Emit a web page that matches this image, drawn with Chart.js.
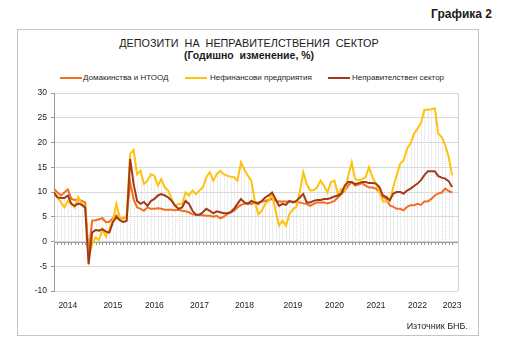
<!DOCTYPE html>
<html>
<head>
<meta charset="utf-8">
<script src="https://cdn.jsdelivr.net/npm/chart.js@4.4.1/dist/chart.umd.min.js"></script>
<style>
  html,body{margin:0;padding:0;background:#fff;}
  #wrap{position:relative;width:515px;height:362px;background:#fff;font-family:Arial,"Liberation Sans",sans-serif;color:#1a1a1a;overflow:hidden;}
  #frame{position:absolute;left:17px;top:29px;width:462px;height:307px;border:1px solid #c4c4c4;box-sizing:border-box;}
  #fig{position:absolute;right:23px;top:7px;font-weight:bold;font-size:12px;line-height:14px;}
  .t{position:absolute;left:0;width:498px;text-align:center;white-space:pre;line-height:12px;}
  #t1{top:37px;font-size:10.8px;}
  #t2{top:49px;font-size:10.5px;font-weight:bold;}
  .sw{position:absolute;height:2px;width:22px;top:77px;}
  .lt{position:absolute;top:73px;font-size:8px;line-height:10px;white-space:nowrap;color:#262626;}
  #src{position:absolute;right:47px;top:321px;font-size:9px;line-height:11px;color:#262626;}
  canvas{position:absolute;left:0;top:0;}
</style>
</head>
<body>
<div id="wrap">
  <div id="frame"></div>
  <div id="fig">Графика 2</div>
  <div class="t" id="t1">ДЕПОЗИТИ  НА  НЕПРАВИТЕЛСТВЕНИЯ  СЕКТОР</div>
  <div class="t" id="t2">(Годишно  изменение, %)</div>
  <div class="sw" id="sw0" style="left:60px;"></div><div class="lt" id="lt0" style="left:83px;"></div>
  <div class="sw" id="sw1" style="left:185px;"></div><div class="lt" id="lt1" style="left:210px;"></div>
  <div class="sw" id="sw2" style="left:328px;"></div><div class="lt" id="lt2" style="left:352px;"></div>
  <canvas id="c" width="515" height="362"></canvas>
  <div id="src">Източник БНБ.</div>
</div>
<script>
// ---- data (monthly, y/y change, %) ----
const startYear = 2013, startMonth = 10; // first observation
const seriesNames = ['Домакинства и НТООД', 'Нефинансови  предприятия', 'Неправителствен сектор'];

const households = [10.6,9.9,9.3,9.9,10.5,8.6,8.4,8.5,8.2,7.9,
 -2.5,4.2,4.3,4.5,4.7,3.9,4.0,4.7,5.3,4.7,
 4.7,5.0,12.0,8.5,6.9,6.6,6.2,6.9,6.6,6.6,
 6.7,6.6,6.4,6.4,6.4,6.3,6.4,6.2,6.1,5.9,
 5.5,5.4,5.4,5.3,5.2,5.2,5.0,5.2,4.7,5.0,
 5.5,5.9,6.2,6.9,7.4,7.6,7.7,7.6,7.9,7.9,
 8.1,8.2,8.4,8.6,8.2,8.1,8.1,8.1,8.1,8.1,
 7.9,7.9,7.7,7.6,7.2,7.6,7.9,7.9,7.9,7.7,
 7.9,8.2,8.9,9.6,10.3,11.3,12.0,11.3,11.5,11.8,
 11.3,10.9,10.9,10.7,10.0,9.0,8.6,7.3,7.0,6.6,
 6.6,6.3,7.0,7.3,7.3,7.6,7.4,8.1,8.1,8.6,
 9.3,9.7,9.9,10.7,10.2,9.9];

const nonFinancial = [9.6,8.9,7.9,6.9,8.2,7.6,6.9,9.0,7.6,7.2,
 -3.5,-0.5,0.8,0.3,2.5,1.0,2.5,4.2,7.6,4.9,
 4.5,5.2,17.7,18.5,13.6,14.3,11.6,12.3,13.6,13.3,
 11.3,12.6,10.9,10.3,8.6,7.2,7.6,7.6,9.9,9.3,
 10.3,9.6,10.3,10.9,13.0,14.0,12.3,13.6,14.3,13.6,
 13.3,13.1,13.0,12.3,16.0,14.5,13.3,12.3,8.2,5.5,
 6.2,7.6,8.2,9.6,6.2,3.2,4.2,3.2,5.5,6.5,
 7.0,10.0,14.0,11.6,10.3,10.4,10.9,12.3,11.3,9.9,
 12.0,12.3,9.6,10.6,10.3,13.3,16.0,12.6,12.4,12.6,
 13.0,15.0,13.0,11.7,10.0,8.1,8.1,8.3,11.0,13.4,
 15.7,16.4,18.8,19.8,21.8,22.8,23.9,26.6,26.6,26.7,
 26.9,21.8,21.1,19.5,17.1,13.4];

const nonGovSector = [9.9,8.9,8.8,8.8,9.3,7.6,7.2,7.7,7.4,6.9,
 -4.6,1.8,2.3,2.2,2.5,2.0,1.8,3.9,4.9,4.3,
 3.9,4.2,16.7,11.6,8.2,7.6,8.0,7.2,8.2,8.6,
 9.3,9.6,9.3,8.9,8.2,7.2,6.6,6.9,8.2,7.6,
 6.2,5.4,5.4,5.9,6.6,6.2,5.7,6.1,5.9,5.7,
 5.7,5.9,6.6,7.6,8.6,7.9,7.6,8.2,7.9,7.6,
 8.2,8.9,9.3,9.9,8.6,7.2,7.6,7.4,8.2,7.9,
 8.2,8.9,9.6,7.9,7.9,8.2,8.4,8.4,8.6,8.6,
 8.8,9.1,9.3,9.7,11.3,12.0,12.0,11.6,11.8,12.0,
 12.0,11.8,11.8,11.7,11.0,9.3,9.0,8.3,9.7,10.0,
 10.0,9.7,10.3,10.7,11.2,11.7,12.4,13.4,14.2,14.2,
 14.2,13.2,12.9,12.7,12.2,11.0];

// month categories
const months = households.map((_, i) => {
  const m0 = startMonth - 1 + i;
  const y = startYear + Math.floor(m0 / 12);
  const m = (m0 % 12) + 1;
  return y + '-' + String(m).padStart(2, '0');
});
// year tick labels and the month under which each is written
const yearLabels = ['2014','2015','2016','2017','2018','2019','2020','2021','2022','2023'];
const yearLabelMonths = ['2014-02','2015-03','2016-03','2017-04','2018-05','2019-07','2020-07','2021-07','2022-07','2023-05'];
const yTicks = [-10,-5,0,5,10,15,20,25,30];

// ---- styles ----
const colors = ['#F26F21', '#FFC20E', '#A33A17'];
const seriesData = [households, nonFinancial, nonGovSector];

seriesNames.forEach((n, k) => {
  document.getElementById('lt' + k).textContent = n;
  document.getElementById('sw' + k).style.background = colors[k];
});

const yearTickValues = yearLabelMonths.map(m => months.indexOf(m));

const decor = {
  id: 'decor',
  beforeDatasetsDraw(chart) {
    const { ctx, chartArea: a, scales: { x, y } } = chart;
    const y0 = Math.round(y.getPixelForValue(0)) + 0.5;
    ctx.save();
    // drop lines
    ctx.strokeStyle = '#dadada';
    ctx.lineWidth = 1;
    ctx.setLineDash([1, 1]);
    months.forEach((_, i) => {
      const top = Math.max(households[i], nonFinancial[i], nonGovSector[i]);
      const px = Math.round(x.getPixelForValue(i)) + 0.5;
      ctx.beginPath();
      ctx.moveTo(px, y.getPixelForValue(top));
      ctx.lineTo(px, y0);
      ctx.stroke();
    });
    ctx.setLineDash([]);
    // plot border (right)
    ctx.strokeStyle = '#d0d0d0';
    ctx.beginPath();
    ctx.moveTo(Math.round(a.right) + 0.5, a.top);
    ctx.lineTo(Math.round(a.right) + 0.5, a.bottom);
    ctx.stroke();
    // category axis at zero with tick marks
    ctx.strokeStyle = '#9a9a9a';
    ctx.beginPath();
    ctx.moveTo(a.left, y0);
    ctx.lineTo(a.right, y0);
    ctx.stroke();
    months.forEach((_, i) => {
      const px = Math.round(x.getPixelForValue(i)) + 0.5;
      ctx.beginPath();
      ctx.moveTo(px, y0);
      ctx.lineTo(px, y0 + 2.5);
      ctx.stroke();
    });
    ctx.restore();
  }
};

new Chart(document.getElementById('c'), {
  type: 'line',
  data: {
    datasets: seriesData.map((arr, k) => ({
      label: seriesNames[k],
      data: arr.map((v, i) => ({ x: i, y: v })),
      borderColor: colors[k],
      backgroundColor: colors[k],
      borderWidth: 2,
      pointRadius: 0,
      tension: 0,
      order: 2 - k
    }))
  },
  options: {
    responsive: false,
    animation: false,
    devicePixelRatio: 1,
    layout: { padding: { left: 20, right: 57, top: 93, bottom: 46 } },
    plugins: { legend: { display: false }, title: { display: false }, tooltip: { enabled: false } },
    scales: {
      x: {
        type: 'linear',
        min: 0,
        max: months.length + 0.7,
        grid: { display: false, drawTicks: false },
        border: { display: false },
        afterBuildTicks: (axis) => { axis.ticks = yearTickValues.map(v => ({ value: v })); },
        afterFit: (s) => { s.height = 25; },
        ticks: {
          autoSkip: false,
          maxRotation: 0,
          padding: 10,
          color: '#1a1a1a',
          font: { family: 'Arial, "Liberation Sans"', size: 8.5 },
          callback: (v) => yearLabels[yearTickValues.indexOf(v)]
        }
      },
      y: {
        min: -10,
        max: 30,
        afterBuildTicks: (axis) => { axis.ticks = yTicks.map(v => ({ value: v })); },
        afterFit: (s) => { s.width = 34; },
        grid: { color: '#d9d9d9', lineWidth: 1, tickLength: 3, tickColor: '#9a9a9a' },
        border: { display: true, color: '#9a9a9a' },
        ticks: {
          padding: 4,
          color: '#1a1a1a',
          font: { family: 'Arial, "Liberation Sans"', size: 8.5 }
        }
      }
    }
  },
  plugins: [decor]
});
</script>
</body>
</html>
